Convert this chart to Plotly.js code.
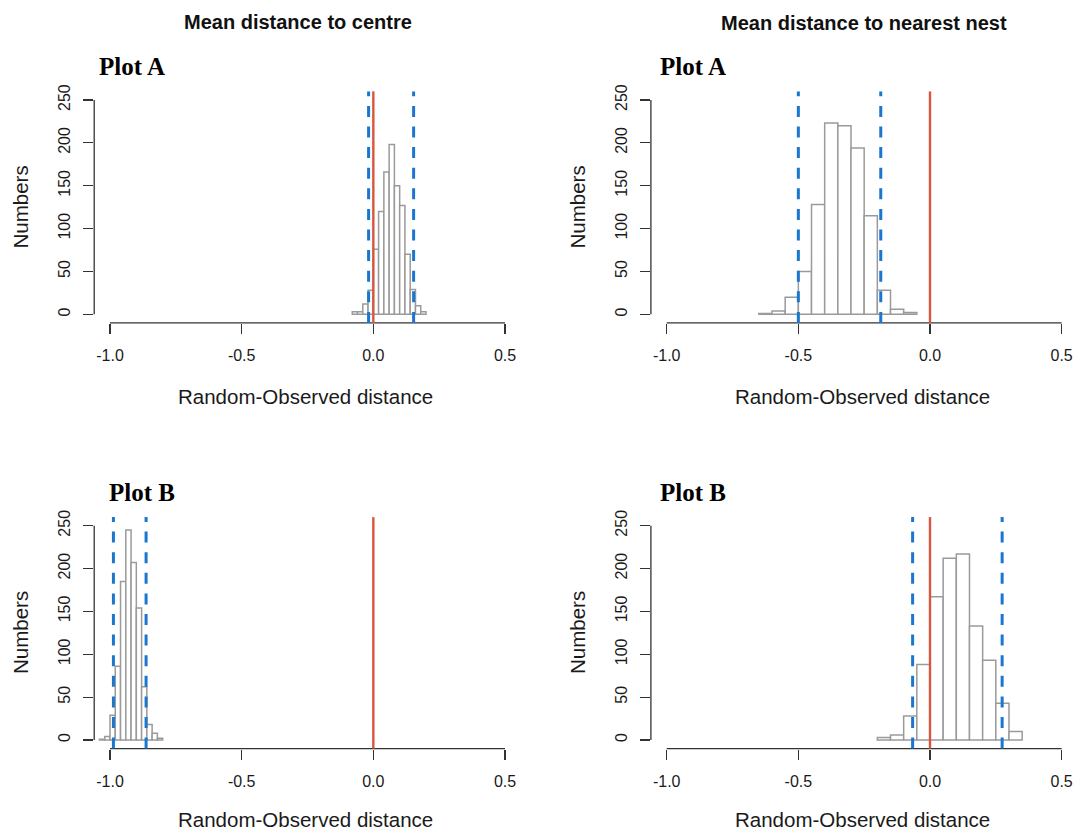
<!DOCTYPE html>
<html><head><meta charset="utf-8">
<script src="https://cdn.plot.ly/plotly-3.0.1.min.js"></script>
<style>html,body{margin:0;padding:0;background:#fff}#chart{width:1074px;height:832px}</style>
</head><body><div id="chart"></div>
<script>
// ---- Data ----
// Mean distance to centre, Plot A
const centreA_binStart = [-0.08,-0.06,-0.04,-0.02,0.00,0.02,0.04,0.06,0.08,0.10,0.12,0.14,0.16,0.18];
const centreA_counts   = [3,3,12,28,76,120,166,198,150,127,70,29,10,3];
const centreA_binWidth = 0.02;
const centreA_observed = 0;
const centreA_ci       = [-0.018, 0.153];

// Mean distance to nearest nest, Plot A
const nestA_binStart = [-0.65,-0.60,-0.55,-0.50,-0.45,-0.40,-0.35,-0.30,-0.25,-0.20,-0.15,-0.10];
const nestA_counts   = [1,4,20,50,128,223,220,194,115,28,6,2];
const nestA_binWidth = 0.05;
const nestA_observed = 0;
const nestA_ci       = [-0.500, -0.187];

// Mean distance to centre, Plot B
const centreB_binStart = [-1.04,-1.02,-1.00,-0.98,-0.96,-0.94,-0.92,-0.90,-0.88,-0.86,-0.84,-0.82];
const centreB_counts   = [1,4,29,86,185,245,207,154,62,18,8,2];
const centreB_binWidth = 0.02;
const centreB_observed = 0;
const centreB_ci       = [-0.987, -0.863];

// Mean distance to nearest nest, Plot B
const nestB_binStart = [-0.20,-0.15,-0.10,-0.05,0.00,0.05,0.10,0.15,0.20,0.25,0.30];
const nestB_counts   = [3,6,28,88,167,212,217,133,93,43,10];
const nestB_binWidth = 0.05;
const nestB_observed = 0;
const nestB_ci       = [-0.066, 0.274];

const xTickVals = [-1.0, -0.5, 0.0, 0.5];
const xTickText = ["-1.0", "-0.5", "0.0", "0.5"];
const yTickVals = [0, 50, 100, 150, 200, 250];
const yTickText = ["0", "50", "100", "150", "200", "250"];

const columnTitles = ["Mean distance to centre", "Mean distance to nearest nest"];
const plotLabels = ["Plot A", "Plot A", "Plot B", "Plot B"];
const xTitle = "Random-Observed distance";
const yTitle = "Numbers";

// ---- Layout helpers ----
const W = 1074, H = 832;
const px = v => v / W;
const py = v => 1 - v / H;
const SANS = "'Liberation Sans', Arial, sans-serif";
const SERIF = "'Liberation Serif', 'Times New Roman', serif";
const RED = "#D9553D", BLUE = "#1B76D0", GRAY = "#9a9a9a", AXIS = "#333333";

const panels = [
  {start: centreA_binStart, counts: centreA_counts, w: centreA_binWidth, obs: centreA_observed, ci: centreA_ci,
   xd: [94.2/W, 520.8/W], yd: [1-322.9/H, 1-91.4/H], xr: [-1.06, 0.56]},
  {start: nestA_binStart, counts: nestA_counts, w: nestA_binWidth, obs: nestA_observed, ci: nestA_ci,
   xd: [650.9/W, 1], yd: [1-322.9/H, 1-91.4/H], xr: [-1.06, -1.06 + (W-650.9)/263.3]},
  {start: centreB_binStart, counts: centreB_counts, w: centreB_binWidth, obs: centreB_observed, ci: centreB_ci,
   xd: [94.2/W, 520.8/W], yd: [1-748.6/H, 1-517.1/H], xr: [-1.06, 0.56]},
  {start: nestB_binStart, counts: nestB_counts, w: nestB_binWidth, obs: nestB_observed, ci: nestB_ci,
   xd: [650.9/W, 1], yd: [1-748.6/H, 1-517.1/H], xr: [-1.06, -1.06 + (W-650.9)/263.3]}
];

const traces = [];
const shapes = [];
const layout = {
  width: W, height: H,
  margin: {l: 0, r: 0, t: 0, b: 0},
  paper_bgcolor: "#ffffff", plot_bgcolor: "#ffffff",
  showlegend: false,
  font: {family: SANS, color: "#1a1a1a"},
  shapes: shapes,
  annotations: []
};

panels.forEach((p, i) => {
  const n = i === 0 ? "" : String(i + 1);
  const xa = "x" + n, ya = "y" + n;
  traces.push({
    type: "bar", x: p.start, y: p.counts, width: p.w, offset: 0,
    xaxis: xa, yaxis: ya,
    marker: {color: "#ffffff", line: {color: GRAY, width: 1.5}},
    hoverinfo: "x+y"
  });
  layout["xaxis" + n] = {
    domain: p.xd, range: p.xr, anchor: ya, fixedrange: true,
    showgrid: false, zeroline: false, showline: false,
    ticks: "outside", ticklen: 10, tickwidth: 1.3, tickcolor: AXIS,
    tickmode: "array", tickvals: xTickVals, ticktext: xTickText,
    ticklabelstandoff: 8,
    tickfont: {size: 16, family: SANS, color: "#1a1a1a"}
  };
  layout["yaxis" + n] = {
    domain: p.yd, range: [-10, 260], anchor: xa, fixedrange: true,
    showgrid: false, zeroline: false, showline: false,
    ticks: "outside", ticklen: 10, tickwidth: 1.3, tickcolor: AXIS,
    tickmode: "array", tickvals: yTickVals, ticktext: yTickText, tickangle: -90,
    ticklabelstandoff: 7,
    tickfont: {size: 16, family: SANS, color: "#1a1a1a"}
  };
  // R-style axis lines spanning first to last tick
  shapes.push({type: "line", xref: xa, yref: ya + " domain",
    x0: xTickVals[0], x1: xTickVals[xTickVals.length - 1], y0: 0, y1: 0,
    line: {color: AXIS, width: 1.3}});
  shapes.push({type: "line", xref: xa + " domain", yref: ya,
    x0: 0, x1: 0, y0: yTickVals[0], y1: yTickVals[yTickVals.length - 1],
    line: {color: AXIS, width: 1.3}});
  // confidence limits (blue dashed) and observed (red)
  p.ci.forEach(c => shapes.push({type: "line", xref: xa, yref: ya + " domain",
    x0: c, x1: c, y0: 0, y1: 1, line: {color: BLUE, width: 3, dash: "11px,9.6px"}}));
  shapes.push({type: "line", xref: xa, yref: ya + " domain",
    x0: p.obs, x1: p.obs, y0: 0, y1: 1, line: {color: RED, width: 2.4}});
});

const ann = layout.annotations;
// column titles
ann.push({text: "<b>" + columnTitles[0] + "</b>", xref: "paper", yref: "paper", x: px(298), y: py(22),
  xanchor: "center", yanchor: "middle", showarrow: false, font: {size: 20, family: SANS, color: "#111"}});
ann.push({text: "<b>" + columnTitles[1] + "</b>", xref: "paper", yref: "paper", x: px(864), y: py(22.5),
  xanchor: "center", yanchor: "middle", showarrow: false, font: {size: 20, family: SANS, color: "#111"}});
// plot labels
const labelPos = [[97, 66], [658.3, 66.5], [107.3, 492.7], [658.3, 493]];
plotLabels.forEach((t, i) => ann.push({text: "<b>" + t + "</b>", xref: "paper", yref: "paper",
  x: px(labelPos[i][0]), y: py(labelPos[i][1]), xanchor: "left", yanchor: "middle", showarrow: false,
  font: {size: 25, family: SERIF, color: "#000"}}));
// axis titles
const xTitlePos = [[305.5, 396], [862.5, 396], [305.5, 819], [862.5, 819]];
xTitlePos.forEach(q => ann.push({text: xTitle, xref: "paper", yref: "paper", x: px(q[0]), y: py(q[1]),
  xanchor: "center", yanchor: "middle", showarrow: false, font: {size: 20.5, family: SANS, color: "#1a1a1a"}}));
const yTitlePos = [[20, 207.5], [577, 207.5], [20, 633], [577, 633]];
yTitlePos.forEach(q => ann.push({text: yTitle, xref: "paper", yref: "paper", x: px(q[0]), y: py(q[1]),
  xanchor: "center", yanchor: "middle", textangle: -90, showarrow: false,
  font: {size: 20.5, family: SANS, color: "#1a1a1a"}}));

Plotly.newPlot("chart", traces, layout, {displayModeBar: false, staticPlot: true});
</script>
</body></html>
